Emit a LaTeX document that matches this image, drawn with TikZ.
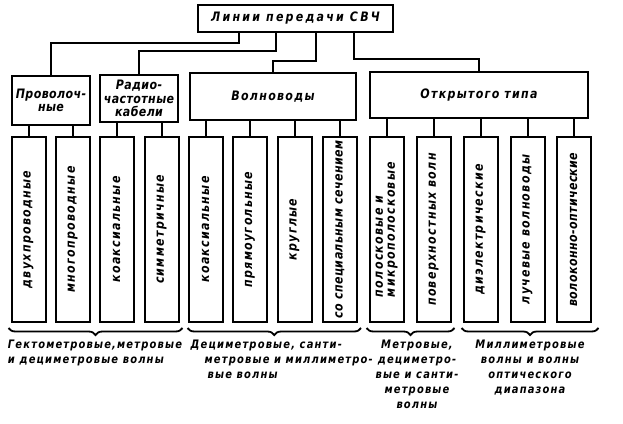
\documentclass[tikz,border=0pt]{standalone}
\usepackage{fontspec}
\setmainfont{DejaVu Sans}[FakeStretch=0.85, LetterSpace=10]
\usetikzlibrary{calc,decorations.pathreplacing}

\tikzset{
  gost/.style={font=\fontsize{13}{14}\selectfont\bfseries\itshape},
  tight/.style={font=\fontsize{13}{13.5}\selectfont\bfseries\itshape\addfontfeatures{LetterSpace=3}},
  box/.style={draw, line width=2pt, inner sep=1pt, align=center, gost},
  leaf/.style={box, minimum width=34pt, minimum height=185pt},
  link/.style={line width=2pt},
  brace/.style={decorate, decoration={brace, mirror, amplitude=7pt}, line width=1.8pt},
  band/.style={font=\fontsize{11.7}{15}\selectfont\bfseries\itshape, inner sep=0pt, anchor=north}
}

\begin{document}
\begin{tikzpicture}[x=1pt, y=1pt]
			%%%%% START %%%%%
			\useasboundingbox (0,0) rectangle (623,-423);
			
			\node[box, minimum width=195pt, minimum height=27pt, font=\fontsize{13}{14}\selectfont\bfseries\itshape\addfontfeatures{LetterSpace=17}] (top) at (295.5,-18.5) {Линии передачи СВЧ};
			
			\node[box, tight, inner sep=0pt, minimum width=78pt, minimum height=49pt] (wire) at (51,-100.5) {Проволоч-\\ные};
			\node[box, tight, inner sep=0pt, minimum width=78pt, minimum height=47pt] (cable) at (139,-98.5) {Радио-\\частотные\\кабели};
			\node[box, minimum width=166pt, minimum height=47pt] (guide) at (273,-96.5) {Волноводы};
			\node[box, minimum width=218pt, minimum height=46pt] (open) at (479,-95) {Открытого типа};
			
			\draw[link] ([xshift=42pt]top.south west) -- ++(0,-10) -| (wire.north);
			\draw[link] ([xshift=79pt]top.south west) -- ++(0,-18) -| (cable.north);
			\draw[link] ([xshift=119pt]top.south west) -- ++(0,-28) -| (guide.north);
			\draw[link] ([xshift=157pt]top.south west) -- ++(0,-26) -| (open.north);
			
			\node[leaf] (l1) at (28.5,-229.5) {\rotatebox{90}{двухпроводные}};
			\node[leaf] (l2) at (72.5,-229.5) {\rotatebox{90}{многопроводные}};
			\node[leaf] (l3) at (116.5,-229.5) {\rotatebox{90}{коаксиальные}};
			\node[leaf] (l4) at (161.5,-229.5) {\rotatebox{90}{симметричные}};
			
			\node[leaf] (l5) at (205.5,-229.5) {\rotatebox{90}{коаксиальные}};
			\node[leaf] (l6) at (250,-229.5) {\rotatebox{90}{прямоугольные}};
			\node[leaf] (l7) at (294.5,-229.5) {\rotatebox{90}{круглые}};
			\node[leaf, tight] (l8) at (340,-229.5) {\rotatebox{90}{со специальным сечением}};
			
			\node[leaf, font=\fontsize{13}{12}\selectfont\bfseries\itshape] (l9) at (386.5,-229.5) {\rotatebox{90}{\begin{tabular}{@{}l@{}}полосковые и\\микрополосковые\end{tabular}}};
			\node[leaf] (l10) at (433.5,-229.5) {\rotatebox{90}{поверхностных волн}};
			\node[leaf] (l11) at (480.5,-229.5) {\rotatebox{90}{диэлектрические}};
			\node[leaf] (l12) at (527.5,-229.5) {\rotatebox{90}{лучевые волноводы}};
			\node[leaf, tight] (l13) at (573.5,-229.5) {\rotatebox{90}{волоконно-оптические}};
			
			\draw[link] (l1.north) -- (l1.north |- wire.south);
			\draw[link] (l2.north) -- (l2.north |- wire.south);
			\draw[link] (l3.north) -- (l3.north |- cable.south);
			\draw[link] (l4.north) -- (l4.north |- cable.south);
			\draw[link] (l5.north) -- (l5.north |- guide.south);
			\draw[link] (l6.north) -- (l6.north |- guide.south);
			\draw[link] (l7.north) -- (l7.north |- guide.south);
			\draw[link] (l8.north) -- (l8.north |- guide.south);
			\draw[link] (l9.north) -- (l9.north |- open.south);
			\draw[link] (l10.north) -- (l10.north |- open.south);
			\draw[link] (l11.north) -- (l11.north |- open.south);
			\draw[link] (l12.north) -- (l12.north |- open.south);
			\draw[link] (l13.north) -- (l13.north |- open.south);
			
			\draw[brace] ([xshift=-2pt,yshift=-5pt]l1.south west) -- ([xshift=3pt,yshift=-5pt]l4.south east);
			\draw[brace] ([yshift=-5pt]l5.south west) -- ([xshift=3pt,yshift=-5pt]l8.south east);
			\draw[brace] ([xshift=-2pt,yshift=-5pt]l9.south west) -- ([xshift=3pt,yshift=-5pt]l10.south east);
			\draw[brace] ([xshift=-1pt,yshift=-5pt]l11.south west) -- ([xshift=7pt,yshift=-5pt]l13.south east);
			
			\node[band, align=left] (hf) at ($(l1.south west)!0.5!(l4.south east)+(0,-17)$) {Гектометровые,метровые\\и дециметровые волны};
			\node[band, align=left] (dm) at ($(l5.south west)!0.5!(l8.south east)+(9,-17)$) {Дециметровые, санти-\\\hspace*{14pt}метровые и миллиметро-\\\hspace*{17pt}вые волны};
			\node[band, align=center] (mw) at ($(l9.south west)!0.5!(l10.south east)+(7,-17)$) {Метровые,\\дециметро-\\вые и санти-\\метровые\\волны};
			\node[band, align=center] (op) at ($(l11.south west)!0.5!(l13.south east)+(3,-17)$) {Миллиметровые\\волны и волны\\оптического\\диапазона};
			
			%%%%% END %%%%%
\end{tikzpicture}
\end{document}
